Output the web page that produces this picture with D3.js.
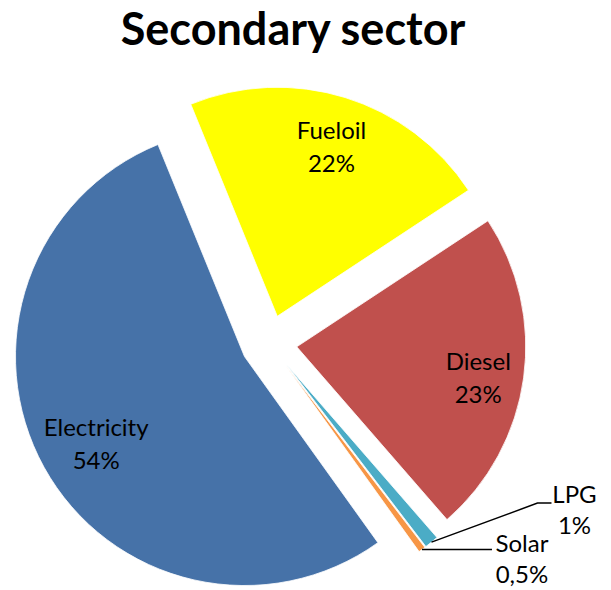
<!DOCTYPE html>
<html>
<head>
<meta charset="utf-8">
<script src="https://cdn.jsdelivr.net/npm/d3@7"></script>
<style>
  html, body { margin: 0; padding: 0; background: #fff; }
  svg { display: block; }
</style>
</head>
<body>
<svg id="chart" width="611" height="590"></svg>
<script>
// ---- data ----
const categories = ["Fueloil", "Diesel", "LPG", "Solar", "Electricity"];
const values = [22, 23, 1, 0.5, 54];
const valueLabels = ["22%", "23%", "1%", "0,5%", "54%"];
const colors = ["#FFFF00", "#C0504D", "#4BACC6", "#F79646", "#4672A8"];
const outsideLabel = [false, false, true, true, false];
const title = "Secondary sector";

// ---- layout ----
const W = 611, H = 590;
const cx = 269, cy = 343;
const radius = 229;
const explode = 28;
const startDeg = -22.2;

const svg = d3.select("#chart");
const font = "Lato, 'Open Sans', sans-serif";

svg.append("text")
  .attr("x", 293).attr("y", 45)
  .attr("text-anchor", "middle")
  .attr("font-family", font)
  .attr("font-weight", "bold")
  .attr("font-size", 45)
  .attr("fill", "#000")
  .text(title);

const pie = d3.pie()
  .sort(null)
  .value(d => d.value)
  .startAngle(startDeg * Math.PI / 180)
  .endAngle(startDeg * Math.PI / 180 + 2 * Math.PI);

const data = categories.map((c, i) => ({
  name: c, value: values[i], label: valueLabels[i], color: colors[i], outside: outsideLabel[i]
}));
const arcs = pie(data);

const arc = d3.arc().innerRadius(0).outerRadius(radius);
const labelFactor = { Electricity: 0.74 };
function labelArcFor(name) {
  const f = labelFactor[name] || 0.8;
  return d3.arc().innerRadius(radius * f).outerRadius(radius * f);
}

function offset(d) {
  const m = (d.startAngle + d.endAngle) / 2;
  return [explode * Math.sin(m), -explode * Math.cos(m)];
}

const g = svg.append("g").attr("transform", `translate(${cx},${cy})`);

const slices = g.selectAll("g.slice").data(arcs).join("g")
  .attr("class", "slice")
  .attr("transform", d => { const o = offset(d); return `translate(${o[0]},${o[1]})`; });

slices.append("path")
  .attr("d", arc)
  .attr("fill", d => d.data.color)
  .attr("stroke", "#fff")
  .attr("stroke-width", 0.8)
  .attr("stroke-linejoin", "miter");

// inside labels
slices.filter(d => !d.data.outside).each(function(d) {
  const [x, y] = labelArcFor(d.data.name).centroid(d);
  const t = d3.select(this).append("text")
    .attr("text-anchor", "middle")
    .attr("font-family", font)
    .attr("font-size", 24)
    .attr("fill", "#000");
  t.append("tspan").attr("x", x).attr("y", y - 2).text(d.data.name);
  t.append("tspan").attr("x", x).attr("y", y + 31).text(d.data.label);
});

// outside labels with leader lines
const outsideLayout = {
  LPG:   { bend: [106, -39], end: [120, -39], text: [143, -39] },
  Solar: { bend: [70, 0],    end: [70, 0],    text: [100, 2] }
};
slices.filter(d => d.data.outside).each(function(d) {
  const m = (d.startAngle + d.endAngle) / 2;
  const tip = [radius * Math.sin(m), -radius * Math.cos(m)];
  const L = outsideLayout[d.data.name];
  const pts = [tip, [tip[0] + L.bend[0], tip[1] + L.bend[1]], [tip[0] + L.end[0], tip[1] + L.end[1]]];
  d3.select(this).append("path")
    .attr("d", d3.line()(pts))
    .attr("fill", "none")
    .attr("stroke", "#000")
    .attr("stroke-width", 1.5);
  const tx = tip[0] + L.text[0], ty = tip[1] + L.text[1];
  const t = d3.select(this).append("text")
    .attr("text-anchor", "middle")
    .attr("font-family", font)
    .attr("font-size", 24)
    .attr("fill", "#000");
  t.append("tspan").attr("x", tx).attr("y", ty).text(d.data.name);
  t.append("tspan").attr("x", tx).attr("y", ty + 31).text(d.data.label);
});
</script>
</body>
</html>
